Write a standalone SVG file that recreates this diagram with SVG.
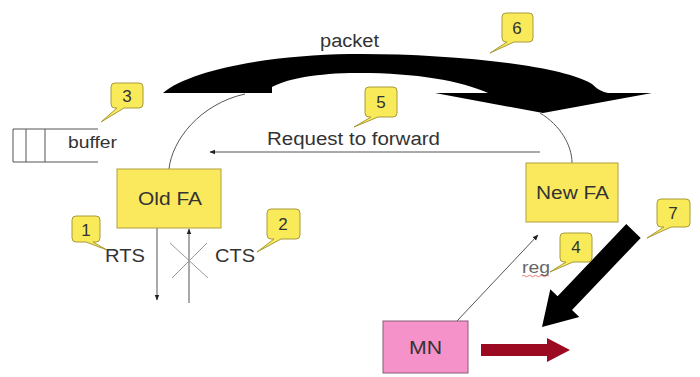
<svg xmlns="http://www.w3.org/2000/svg" width="700" height="377" viewBox="0 0 700 377">
<defs>
<marker id="ah" viewBox="0 0 10 10" refX="9" refY="5" markerWidth="6" markerHeight="6" orient="auto" markerUnits="userSpaceOnUse">
<path d="M0,1 L10,5 L0,9 Z" fill="#222"/>
</marker>
</defs>
<style>
text{font-family:"Liberation Sans",Arial,sans-serif;fill:#333}
.box{fill:#fae95c;stroke:#b0a040;stroke-width:1}
.call{fill:#f9ea5a;stroke:#a89a38;stroke-width:1}
.num{font-size:17px;text-anchor:middle;fill:#333}
.thin{fill:none;stroke:#555;stroke-width:1}
.lbl{font-size:18px}
</style>
<rect width="700" height="377" fill="#fff"/>

<g id="connectors">
<path id="packet-arrow" d="M163,93 C190,70 270,55 350,54 C440,53 560,64 592,84 Q600,92 608,93 L652,93 L543,113 L435,93 L488,93 C460,80 410,72 350,73 C310,74 285,80 272,87 L272,93 Z" fill="#000"/>
<path d="M169,169 C172,140 200,104 245,94" class="thin" stroke="#777"/>
<path d="M540,113 C560,125 572,145 572,163" class="thin" stroke="#777"/>
<line x1="540" y1="152" x2="210" y2="152" class="thin" marker-end="url(#ah)"/>
<line x1="157" y1="228" x2="157" y2="300" class="thin" marker-end="url(#ah)"/>
<line x1="189" y1="303" x2="189" y2="229" class="thin" marker-end="url(#ah)"/>
<line x1="170" y1="243" x2="208" y2="278" stroke="#999" stroke-width="1"/>
<line x1="207" y1="243" x2="172" y2="278" stroke="#999" stroke-width="1"/>
<line x1="457" y1="321" x2="538" y2="235" class="thin" marker-end="url(#ah)"/>
<polygon id="arrow7" points="626.3,224.1 640.7,237.9 572,310 579.3,316.9 542,327 550.3,289.3 557.6,296.2" fill="#000"/>
<polygon id="red-arrow" points="481,344 547,344 547,338 570,350 547,362 547,356 481,356" fill="#9c0a22"/>
</g>

<g id="buffer">
<path d="M98,129 L13,129 L13,162 L98,162 M26,129 L26,162 M45,129 L45,162" fill="none" stroke="#555" stroke-width="1"/>
<text x="68" y="148" font-size="17" textLength="49" lengthAdjust="spacingAndGlyphs">buffer</text>
</g>

<text x="320" y="47" class="lbl" textLength="59" lengthAdjust="spacingAndGlyphs">packet</text>
<text x="267" y="145" class="lbl" textLength="173" lengthAdjust="spacingAndGlyphs">Request to forward</text>

<g id="old-fa">
<rect x="117" y="169" width="104" height="59" class="box"/>
<text x="138" y="205" class="lbl" textLength="64" lengthAdjust="spacingAndGlyphs">Old FA</text>
</g>
<g id="new-fa">
<rect x="526" y="163" width="92" height="59" class="box"/>
<text x="536" y="199" class="lbl" textLength="73" lengthAdjust="spacingAndGlyphs">New FA</text>
</g>
<g id="mn">
<rect x="383" y="321" width="85" height="52" fill="#f592c9" stroke="#8a5a78" stroke-width="1"/>
<text x="409" y="354" class="lbl" textLength="33" lengthAdjust="spacingAndGlyphs">MN</text>
</g>

<text x="105" y="262" class="lbl" textLength="40" lengthAdjust="spacingAndGlyphs">RTS</text>
<text x="215" y="262" class="lbl" textLength="40" lengthAdjust="spacingAndGlyphs">CTS</text>
<g id="reg-label">
<text x="522" y="273" font-size="16" textLength="28" lengthAdjust="spacingAndGlyphs" style="fill:#666">reg</text>
<path d="M522,276 q1.5,-1.5 3,0 t3,0 t3,0 t3,0 t3,0 t3,0 t3,0 t3,0 t3,0" fill="none" stroke="#e04040" stroke-width="0.7"/>
</g>

<g id="callout-1">
<path d="M76,216 H96 Q100,216 100,220 V238 Q100,242 96,242 H93 L107,250 L86,242 H76 Q72,242 72,238 V220 Q72,216 76,216 Z" class="call"/>
<text x="86" y="236" class="num">1</text>
</g>
<g id="callout-2">
<path d="M271,209 H296 Q300,209 300,213 V235 Q300,239 296,239 H281 L257,252 L274,239 H271 Q267,239 267,235 V213 Q267,209 271,209 Z" class="call"/>
<text x="283" y="230" class="num">2</text>
</g>
<g id="callout-3">
<path d="M115,83 H139 Q143,83 143,87 V104 Q143,108 139,108 H124 L101,122 L117,108 H115 Q111,108 111,104 V87 Q111,83 115,83 Z" class="call"/>
<text x="127" y="102" class="num">3</text>
</g>
<g id="callout-4">
<path d="M564,233 H588 Q592,233 592,237 V258 Q592,262 588,262 H573 L550,272 L566,262 H564 Q560,262 560,258 V237 Q560,233 564,233 Z" class="call"/>
<text x="576" y="253" class="num">4</text>
</g>
<g id="callout-5">
<path d="M369,87 H393 Q397,87 397,91 V113 Q397,117 393,117 H378 L354,127 L371,117 H369 Q365,117 365,113 V91 Q365,87 369,87 Z" class="call"/>
<text x="381" y="108" class="num">5</text>
</g>
<g id="callout-6">
<path d="M506,13 H529 Q533,13 533,17 V38 Q533,42 529,42 H514 L490,53 L507,42 H506 Q502,42 502,38 V17 Q502,13 506,13 Z" class="call"/>
<text x="517" y="34" class="num">6</text>
</g>
<g id="callout-7">
<path d="M661,199 H686 Q690,199 690,203 V223 Q690,227 686,227 H671 L647,238 L664,227 H661 Q657,227 657,223 V203 Q657,199 661,199 Z" class="call"/>
<text x="673" y="219" class="num">7</text>
</g>
</svg>
